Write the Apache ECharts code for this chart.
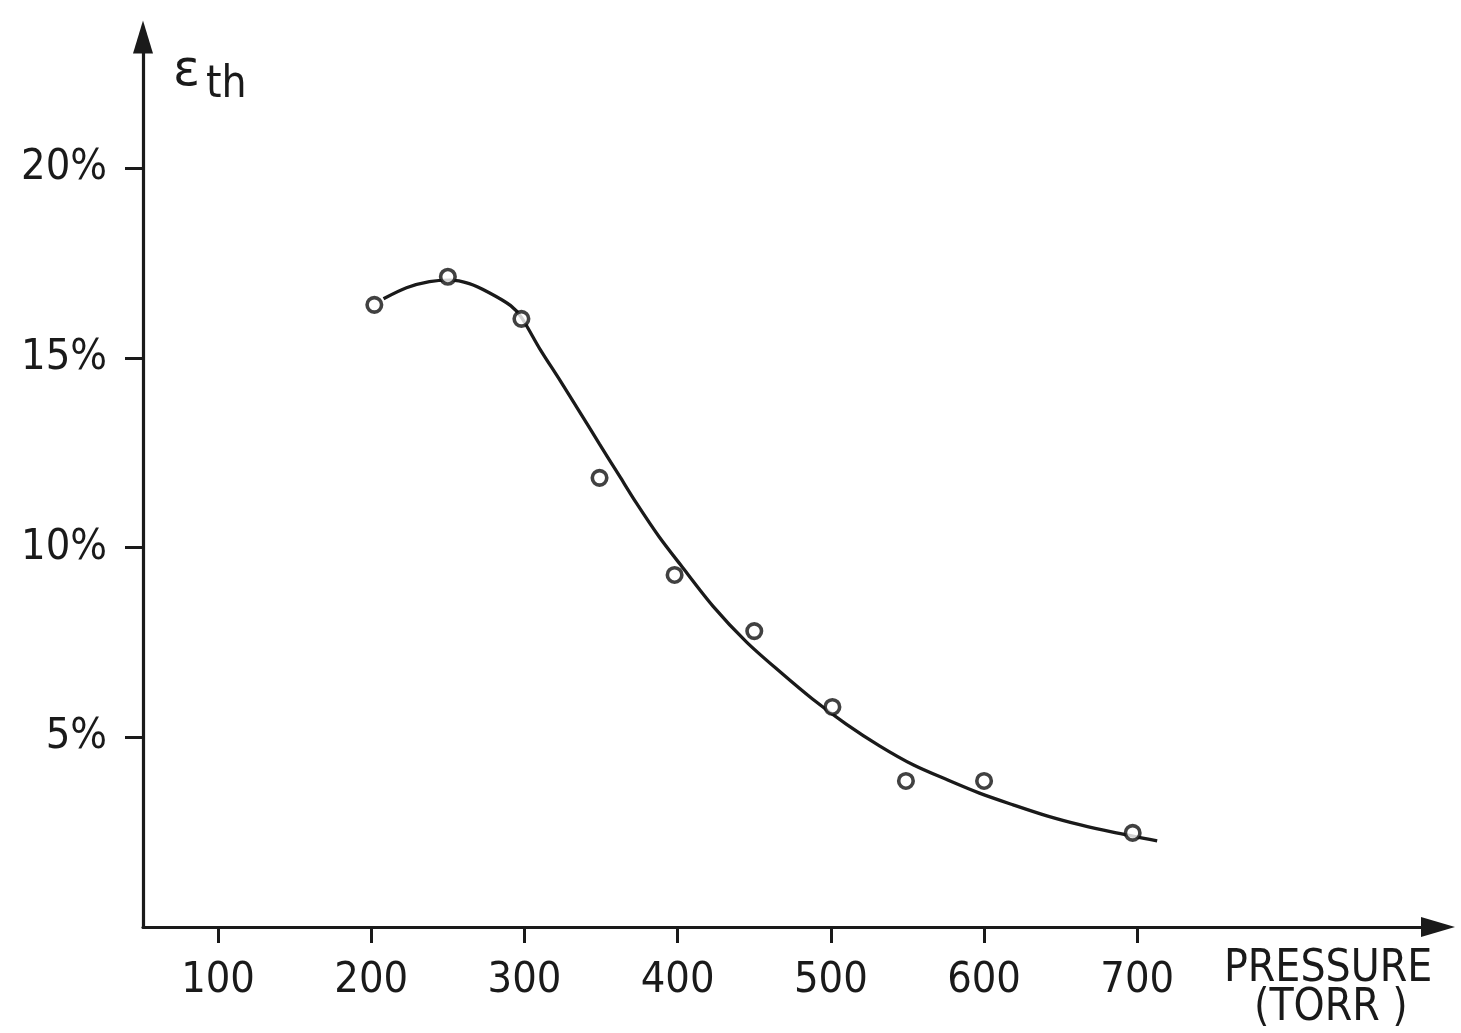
<!DOCTYPE html>
<html><head><meta charset="utf-8">
<script src="https://cdn.jsdelivr.net/npm/echarts@6/dist/echarts.min.js"></script>
<style>html,body{margin:0;padding:0;background:#fff}#c{width:1461px;height:1033px}</style>
</head><body><div id="c"></div>
<script>
// Tick labels
const pressureTicks = [100, 200, 300, 400, 500, 600, 700];
const percentTicks = [5, 10, 15, 20];
// Measured points (pressure in Torr, efficiency in %)
const measuredPressure = [202, 250, 298, 349, 398, 450, 501, 549, 600, 697];
const measuredEff = [16.40, 17.14, 16.03, 11.84, 9.28, 7.80, 5.80, 3.85, 3.85, 2.48];
// Hand-drawn fitted curve
const curvePressure = [208, 223, 238, 251, 264, 277, 291, 298, 310, 323, 336, 349, 362, 373, 388, 402, 423, 445, 467, 488, 510, 532, 554, 576, 597, 619, 641, 663, 684, 713];
const curveEff = [16.56, 16.85, 17.01, 17.05, 16.96, 16.72, 16.38, 16.07, 15.24, 14.42, 13.58, 12.73, 11.89, 11.18, 10.28, 9.54, 8.46, 7.51, 6.72, 6.01, 5.35, 4.77, 4.27, 3.88, 3.53, 3.22, 2.93, 2.69, 2.50, 2.27];

const FONT = "'Liberation Sans Narrow', 'DejaVu Sans Condensed', 'Roboto Condensed', 'Liberation Sans', sans-serif";
const INK = '#1a1a1a';

const chart = echarts.init(document.getElementById('c'), null, {renderer: 'canvas'});
chart.setOption({
  backgroundColor: '#ffffff',
  animation: false,
  grid: {left: 143, right: 23, top: 37, bottom: 106, outerBoundsMode: 'none'},
  xAxis: {
    type: 'value', min: 51, max: 896.3,
    splitLine: {show: false},
    axisLine: {onZero: false, symbol: ['none', 'triangle'], symbolSize: [20, 34], lineStyle: {color: INK, width: 3.2}},
    axisTick: {length: 16, lineStyle: {color: INK, width: 3}, customValues: pressureTicks},
    axisLabel: {customValues: pressureTicks, margin: 32, color: INK, fontSize: 43, fontFamily: FONT}
  },
  yAxis: {
    type: 'value', min: 0, max: 23.46,
    splitLine: {show: false},
    axisLine: {onZero: false, symbol: ['none', 'triangle'], symbolSize: [20, 33], lineStyle: {color: INK, width: 3.2}},
    axisTick: {length: 18, lineStyle: {color: INK, width: 3}, customValues: percentTicks},
    axisLabel: {customValues: percentTicks, margin: 36, color: INK, fontSize: 43, fontFamily: FONT, formatter: v => v + '%', padding: [4, 0, 0, 0]}
  },
  series: [
    {
      type: 'line', name: 'fit', smooth: 0.3, showSymbol: false, z: 2,
      data: curvePressure.map((p, i) => [p, curveEff[i]]),
      lineStyle: {color: INK, width: 3.3}
    },
    {
      type: 'scatter', name: 'measured', z: 3,
      data: measuredPressure.map((p, i) => [p, measuredEff[i]]),
      symbol: 'circle', symbolSize: 14.5,
      itemStyle: {color: '#ffffff', borderColor: '#111111', borderWidth: 3.6}
    }
  ],
  graphic: [
    {type: 'text', left: 173, top: 47, style: {text: 'ε', font: "50px 'DejaVu Sans', sans-serif", fill: INK}},
    {type: 'text', left: 206, top: 64, style: {text: 'th', font: "44px " + FONT, fill: INK}},
    {type: 'text', left: 1224, top: 948, style: {text: 'PRESSURE', font: "44px " + FONT, fill: INK}},
    {type: 'text', left: 1254, top: 987, style: {text: '(TORR )', font: "44px " + FONT, fill: INK}}
  ]
});
</script></body></html>
